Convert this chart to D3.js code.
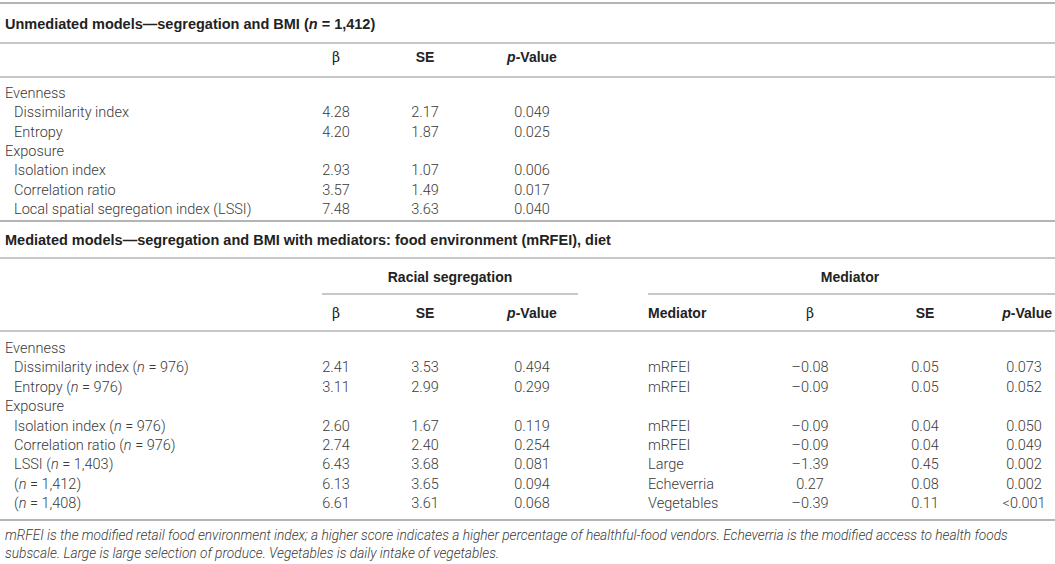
<!DOCTYPE html>
<html>
<head>
<meta charset="utf-8">
<script src="https://cdn.jsdelivr.net/npm/d3@7"></script>
<style>
  body { margin: 0; background: #fff; }
  svg text { font-family: Roboto, "Liberation Sans", sans-serif; fill: #3a3a3a; }
  .cell { font-size: 14.5px; font-weight: 300; }
  .head { font-size: 14px; font-weight: 700; fill: #222; font-family: "Liberation Sans", Arial, sans-serif; }
  .title { font-size: 14.5px; font-weight: 700; fill: #222; font-family: "Liberation Sans", Arial, sans-serif; }
  .note { font-size: 13.7px; font-style: italic; font-weight: 300; }
</style>
</head>
<body>
<div id="table"></div>
<script>
// unmediated models
var unmedGroups = ["Evenness", "Exposure"];
var unmedLabels = ["Dissimilarity index", "Entropy", "Isolation index", "Correlation ratio", "Local spatial segregation index (LSSI)"];
var unmedGroupOf = [0, 0, 1, 1, 1];
var unmedBeta = [4.28, 4.20, 2.93, 3.57, 7.48];
var unmedSE = [2.17, 1.87, 1.07, 1.49, 3.63];
var unmedP = ["0.049", "0.025", "0.006", "0.017", "0.040"];

// mediated models
var medGroups = ["Evenness", "Exposure"];
var medLabels = ["Dissimilarity index", "Entropy", "Isolation index", "Correlation ratio", "LSSI", "", ""];
var medN = ["976", "976", "976", "976", "1,403", "1,412", "1,408"];
var medGroupOf = [0, 0, 1, 1, 1, 1, 1];
var medBeta = [2.41, 3.11, 2.60, 2.74, 6.43, 6.13, 6.61];
var medSE = [3.53, 2.99, 1.67, 2.40, 3.68, 3.65, 3.61];
var medP = ["0.494", "0.299", "0.119", "0.254", "0.081", "0.094", "0.068"];
var mediatorName = ["mRFEI", "mRFEI", "mRFEI", "mRFEI", "Large", "Echeverria", "Vegetables"];
var mediatorBeta = [-0.08, -0.09, -0.09, -0.09, -1.39, 0.27, -0.39];
var mediatorSE = [0.05, 0.05, 0.04, 0.04, 0.45, 0.08, 0.11];
var mediatorP = ["0.073", "0.052", "0.050", "0.049", "0.002", "0.002", "<0.001"];

var footnotes = [
  "mRFEI is the modified retail food environment index; a higher score indicates a higher percentage of healthful-food vendors. Echeverria is the modified access to health foods",
  "subscale. Large is large selection of produce. Vegetables is daily intake of vegetables."
];

var width = 1055, height = 564;
var f2 = d3.format(".2f");
var fm = function(v) { return v < 0 ? "\u2013" + f2(-v) : f2(v); };

var svg = d3.select("#table").append("svg")
  .attr("width", width).attr("height", height);

// column positions
var col = d3.scaleOrdinal()
  .domain(["group", "label", "beta", "se", "p", "medName", "medBeta", "medSE", "medP"])
  .range([5, 14, 336, 425, 532, 648, 810, 925, 1024]);

// row positions
var rowTop = d3.scaleLinear().domain([0, 1]).range([93, 112.3]);
var rowBot = d3.scaleLinear().domain([0, 1]).range([348, 367.4]);

function hline(y, x1, x2, w) {
  svg.append("line")
    .attr("x1", x1).attr("x2", x2)
    .attr("y1", y).attr("y2", y)
    .attr("stroke", "#b4b4b4")
    .attr("stroke-width", w || 1.3);
}

function txt(x, y, cls, anchor) {
  return svg.append("text")
    .attr("x", x).attr("y", y)
    .attr("dy", "0.35em")
    .attr("class", cls)
    .attr("text-anchor", anchor || "start");
}

function beta(x, y) {
  txt(x, y, "head", "middle")
    .style("font-family", "'DejaVu Serif', serif")
    .style("font-weight", 400)
    .text("\u03b2");
}

function pval(x, y, anchor) {
  var t = txt(x, y, "head", anchor || "middle");
  t.append("tspan").style("font-style", "italic").text("p");
  t.append("tspan").text("-Value");
}

// rules
hline(3, 0, width, 2);
hline(43, 0, width);
hline(77, 0, width);
hline(221, 0, width, 2);
hline(258, 0, width);
hline(294, 322, 578);
hline(294, 648, width);
hline(331, 0, width);
hline(520, 0, width, 2);

// title 1
var t1 = txt(5, 24, "title");
t1.append("tspan").text("Unmediated models\u2014segregation and BMI (");
t1.append("tspan").style("font-style", "italic").text("n");
t1.append("tspan").text(" = 1,412)");

// header 1
beta(col("beta"), 57);
txt(col("se"), 57, "head", "middle").text("SE");
pval(col("p"), 57);

// build rows with group labels interleaved
function buildRows(labels, groupOf) {
  var rows = [], last = -1;
  labels.forEach(function(l, i) {
    if (groupOf[i] != last) { rows.push({group: groupOf[i]}); last = groupOf[i]; }
    rows.push({i: i});
  });
  return rows;
}

var topRows = buildRows(unmedLabels, unmedGroupOf);
topRows.forEach(function(r, k) {
  var y = rowTop(k);
  if (r.group !== undefined) {
    txt(col("group"), y, "cell").text(unmedGroups[r.group]);
    return;
  }
  txt(col("label"), y, "cell").text(unmedLabels[r.i]);
  txt(col("beta"), y, "cell", "middle").text(f2(unmedBeta[r.i]));
  txt(col("se"), y, "cell", "middle").text(f2(unmedSE[r.i]));
  txt(col("p"), y, "cell", "middle").text(unmedP[r.i]);
});

// title 2
txt(5, 240, "title").text("Mediated models\u2014segregation and BMI with mediators: food environment (mRFEI), diet");

// group headers
txt(450, 277, "head", "middle").text("Racial segregation");
txt(850, 277, "head", "middle").text("Mediator");

// header 2
beta(col("beta"), 313);
txt(col("se"), 313, "head", "middle").text("SE");
pval(col("p"), 313);
txt(col("medName"), 313, "head").text("Mediator");
beta(col("medBeta"), 313);
txt(col("medSE"), 313, "head", "middle").text("SE");
pval(1052, 313, "end");

var botRows = buildRows(medLabels, medGroupOf);
botRows.forEach(function(r, k) {
  var y = rowBot(k);
  if (r.group !== undefined) {
    txt(col("group"), y, "cell").text(medGroups[r.group]);
    return;
  }
  var lab = txt(col("label"), y, "cell");
  lab.append("tspan").text((medLabels[r.i] ? medLabels[r.i] + " " : "") + "(");
  lab.append("tspan").style("font-style", "italic").text("n");
  lab.append("tspan").text(" = " + medN[r.i] + ")");
  txt(col("beta"), y, "cell", "middle").text(f2(medBeta[r.i]));
  txt(col("se"), y, "cell", "middle").text(f2(medSE[r.i]));
  txt(col("p"), y, "cell", "middle").text(medP[r.i]);
  txt(col("medName"), y, "cell").text(mediatorName[r.i]);
  txt(col("medBeta"), y, "cell", "middle").text(fm(mediatorBeta[r.i]));
  txt(col("medSE"), y, "cell", "middle").text(f2(mediatorSE[r.i]));
  txt(col("medP"), y, "cell", "middle").text(mediatorP[r.i]);
});

// footnote
footnotes.forEach(function(s, i) {
  txt(5, 535 + i * 18.5, "note").text(s);
});
</script>
</body>
</html>
